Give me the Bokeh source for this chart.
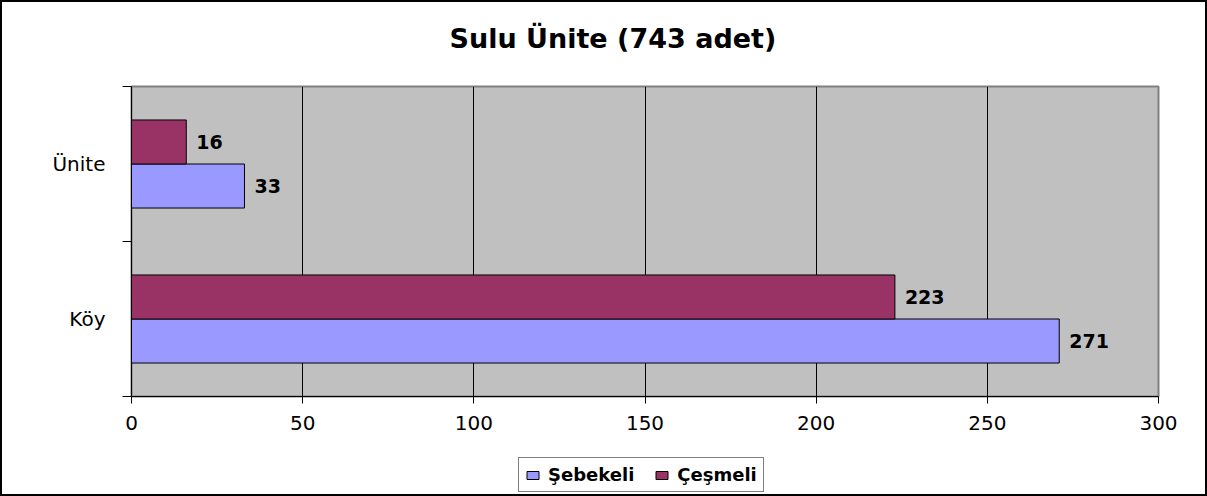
from bokeh.plotting import figure
from bokeh.layouts import column
from bokeh.models import Range1d, FixedTicker, Title, ColumnDataSource
from bokeh.core.properties import value
from bokeh.embed import file_html
from bokeh.resources import INLINE

title_text = "Sulu Ünite (743 adet)"
categories = ["Köy", "Ünite"]          # bottom to top
series_names = ["Şebekeli", "Çeşmeli"]
sebekeli = [271, 33]
cesmeli = [223, 16]
x_ticks = [0, 50, 100, 150, 200, 250, 300]

colors = ["#9999FF", "#993366"]
FONT = "DejaVu Sans"

p = figure(width=1203, height=448, output_backend="svg", toolbar_location=None,
           x_range=Range1d(0, 300), y_range=Range1d(0, len(categories)),
           min_border_left=129, min_border_right=47, min_border_top=84,
           min_border_bottom=54)
p.background_fill_color = "#C0C0C0"
p.border_fill_color = "white"
p.outline_line_color = "#808080"
p.outline_line_width = 2

centers = [i + 0.5 for i in range(len(categories))]
off = 0.142
bh = 0.284
y_seb = [c - off for c in centers]
y_ces = [c + off for c in centers]

src_seb = ColumnDataSource(dict(y=y_seb, v=sebekeli, t=[str(v) for v in sebekeli]))
src_ces = ColumnDataSource(dict(y=y_ces, v=cesmeli, t=[str(v) for v in cesmeli]))
sources = [src_seb, src_ces]

for src, col in zip(sources, colors):
    p.hbar(y="y", left=0, right="v", height=bh, source=src, fill_color=col,
           line_color="black", line_width=1)

for src in sources:
    p.text(x="v", y="y", text="t", source=src, x_offset=10, text_baseline="middle",
           text_align="left", text_font=value(FONT), text_font_style="bold",
           text_font_size="19px", text_color="black")

# grid
p.ygrid.grid_line_color = None
p.xgrid.ticker = FixedTicker(ticks=x_ticks)
p.xgrid.grid_line_color = "black"
p.xgrid.grid_line_width = 1

# x axis
xa = p.xaxis[0]
xa.ticker = FixedTicker(ticks=x_ticks)
xa.axis_line_color = "black"
xa.major_tick_line_color = "black"
xa.major_tick_out = 7
xa.major_tick_in = 0
xa.minor_tick_line_color = None
xa.major_label_standoff = 12
xa.major_label_text_font = FONT
xa.major_label_text_font_size = "20px"
xa.major_label_text_color = "black"

# y axis
ya = p.yaxis[0]
ya.ticker = FixedTicker(ticks=centers, minor_ticks=list(range(len(categories) + 1)))
ya.major_label_overrides = {c: lab for c, lab in zip(centers, categories)}
ya.axis_line_color = "black"
ya.major_tick_line_color = None
ya.major_tick_out = 0
ya.major_tick_in = 0
ya.minor_tick_line_color = "black"
ya.minor_tick_out = 9
ya.minor_tick_in = 0
ya.major_label_standoff = 17
ya.major_label_text_font = FONT
ya.major_label_text_font_size = "20px"
ya.major_label_text_color = "black"

# title (spacer first, nearest the frame)
p.add_layout(Title(text=" ", text_font_size="14px"), "above")
p.add_layout(Title(text=title_text, align="left", offset=318, text_font=FONT,
                   text_font_style="bold", text_font_size="27px",
                   text_color="black"), "above")

# legend strip below (same series, drawn out of its view so only the legend shows)
p2 = figure(width=1203, height=44, output_backend="svg", toolbar_location=None,
            x_range=Range1d(0, 300), y_range=Range1d(10, 11),
            x_axis_type=None, y_axis_type=None,
            min_border_left=0, min_border_right=0, min_border_top=0,
            min_border_bottom=0)
p2.outline_line_color = None
p2.background_fill_color = "white"
p2.border_fill_color = "white"
p2.grid.grid_line_color = None
for src, name, col in zip(sources, series_names, colors):
    p2.hbar(y="y", left=0, right="v", height=bh, source=src, fill_color=col,
            line_color="black", line_width=1, legend_label=name)

lg = p2.legend[0]
lg.orientation = "horizontal"
lg.location = (387, 2)
lg.border_line_color = "black"
lg.border_line_width = 1
lg.background_fill_color = "white"
lg.background_fill_alpha = 1
lg.label_text_font = FONT
lg.label_text_font_style = "bold"
lg.label_text_font_size = "18px"
lg.label_text_color = "black"
lg.glyph_width = 15
lg.glyph_height = 10
lg.label_standoff = 8
lg.spacing = 20
lg.padding = 6
lg.margin = 0

layout = column(p, p2, spacing=0, styles={"border": "2px solid black"})

open("out.html", "w").write(file_html(layout, INLINE))
